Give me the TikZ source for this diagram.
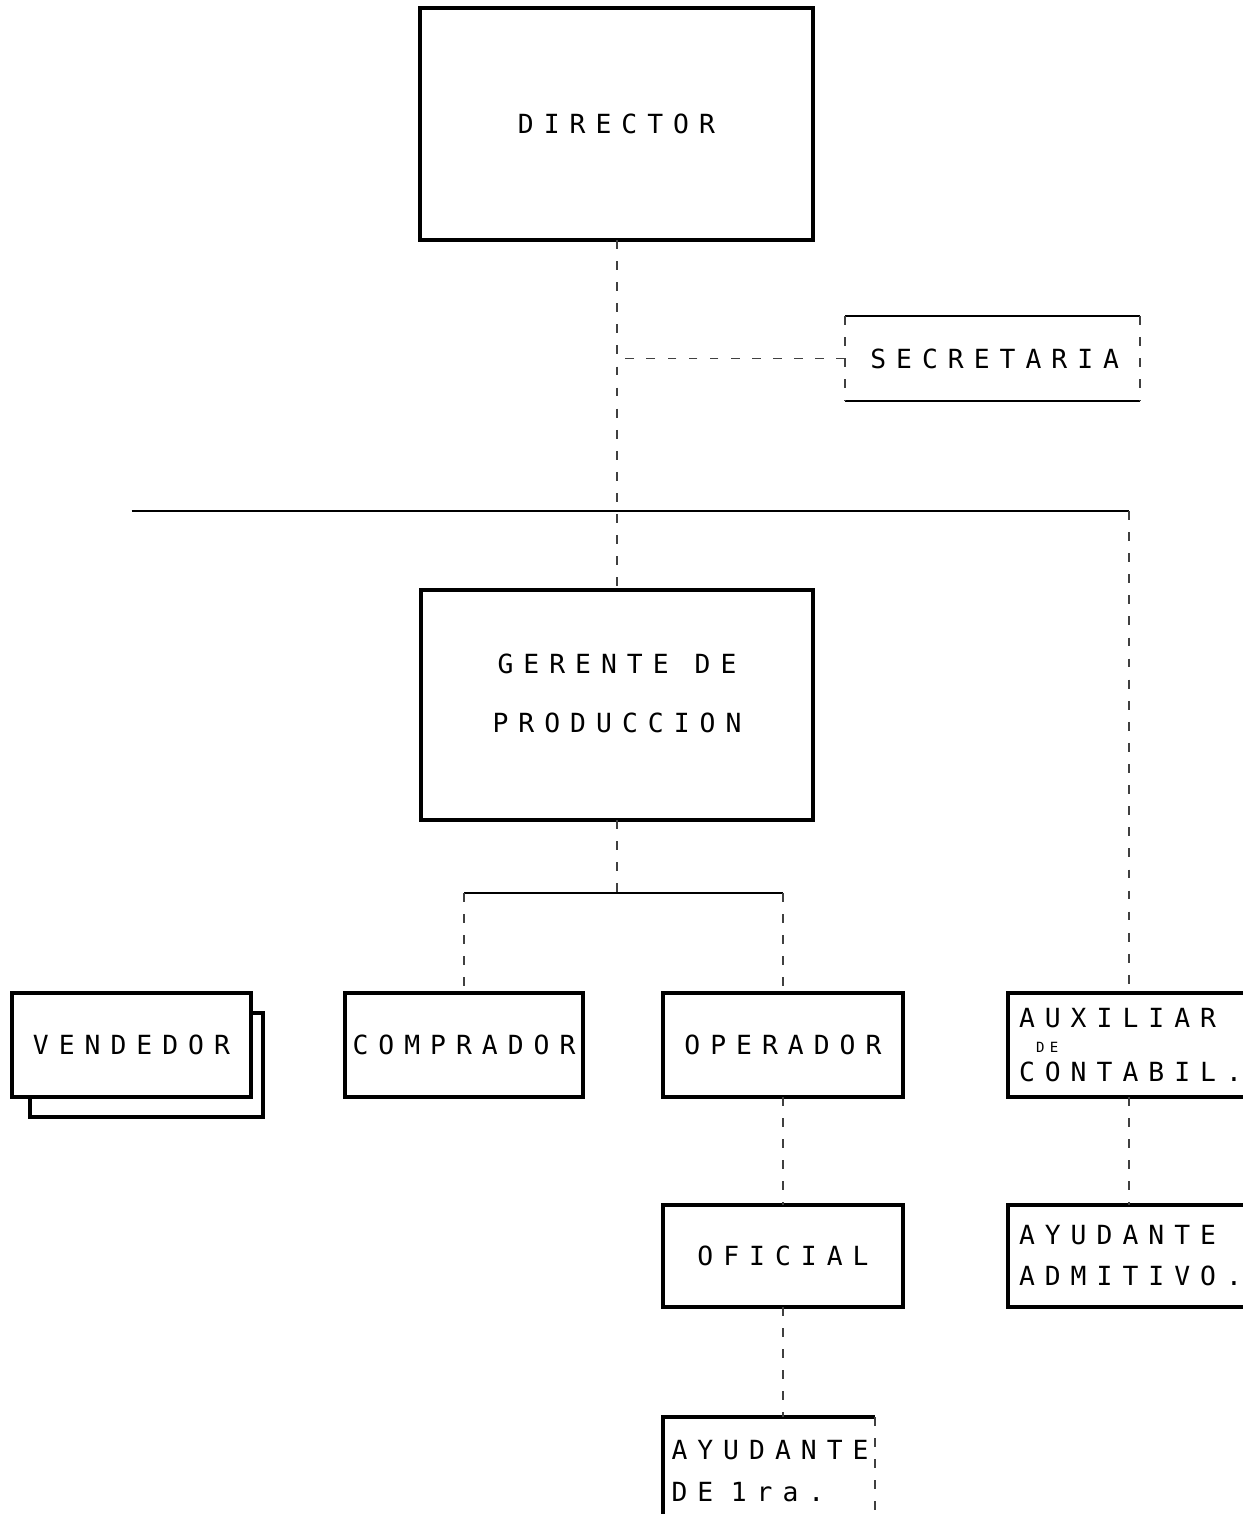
\documentclass[tikz,border=0pt]{standalone}
\usepackage{fontspec}
\newfontfamily\dotfont[LetterSpace=38]{DejaVu Sans Mono}
\usepackage{tikz}
\usetikzlibrary{positioning,calc}

\begin{document}
\begin{tikzpicture}[
  box/.style={draw=black, line width=1pt, fill=white, inner sep=0pt, outer sep=0pt,
    font=\dotfont\fontsize{7.5}{17}\selectfont},
  lbox/.style={box, align=left, text width=#1, font=\dotfont\fontsize{7.5}{11.7}\selectfont},
  link/.style={black!75, line width=0.45pt, dash pattern=on 2.5pt off 3.5pt},
  bus/.style={black, line width=0.6pt}]
\useasboundingbox (0,0) rectangle (12.43,-15.14);
% top
\node[box, minimum width=3.93cm, minimum height=2.32cm] (dir) at (6.165,-1.24) {DIRECTOR};
\node[box, draw=none, minimum width=2.95cm, minimum height=0.85cm] (sec) at (9.925,-3.585) {\,SECRETARIA};
\draw[line width=0.8pt] (sec.north west) -- (sec.north east) (sec.south west) -- (sec.south east);
\draw[link] (sec.north west) -- (sec.south west) (sec.north east) -- (sec.south east);
\node[box, minimum width=3.92cm, minimum height=2.30cm] (ger) at (6.17,-7.05)
  {\raisebox{0.14cm}[\height][\depth]{\begin{tabular}{@{}c@{}}GERENTE DE\\PRODUCCION\end{tabular}}};
% row of posts
\node[box, minimum width=2.33cm, minimum height=1.04cm] (vensh) at (1.465,-10.65) {};
\node[box, minimum width=2.39cm, minimum height=1.04cm] (ven) at (1.315,-10.45) {VENDEDOR};
\node[box, minimum width=2.38cm, minimum height=1.04cm] (comp) at (4.64,-10.45) {COMPRADOR};
\node[box, minimum width=2.40cm, minimum height=1.04cm] (oper) at (7.83,-10.45) {OPERADOR};
\node[lbox=2.2cm, minimum width=2.42cm, minimum height=1.04cm] (aux) at (11.29,-10.45)
  {AUXILIAR\\[-4.5pt]\hspace*{0.17cm}{\fontsize{4}{4}\selectfont DE}\\[-3.5pt]CONTABIL.};
\node[box, minimum width=2.40cm, minimum height=1.02cm] (ofi) at (7.83,-12.56) {OFICIAL};
\node[lbox=2.2cm, minimum width=2.42cm, minimum height=1.02cm] (adm) at (11.29,-12.56) {AYUDANTE\\ADMITIVO.};
\node[lbox=1.95cm, draw=none, minimum width=2.12cm, minimum height=1.08cm] (ay1) at (7.69,-14.71) {AYUDANTE\\DE~~1ra.};
\draw[line width=1pt] (ay1.north east) -- (ay1.north west) -- (ay1.south west);
\draw[link] (ay1.north east) -- (ay1.south east);
% connectors
\coordinate (top) at (6.17,-5.11);
\coordinate (mid) at (6.17,-8.93);
\draw[link] (dir.south -| top) -- (ger.north -| top);
\draw[link] (sec.west) -- (sec.west -| top);
\draw[bus] (ven.north |- top) -- (aux.north |- top);
\draw[link] (aux.north |- top) -- (aux.north);
\draw[link] (ger.south -| mid) -- (mid);
\draw[bus] (comp.north |- mid) -- (oper.north |- mid);
\draw[link] (comp.north |- mid) -- (comp.north);
\draw[link] (oper.north |- mid) -- (oper.north);
\draw[link] (oper.south) -- (ofi.north);
\draw[link] (ofi.south) -- (ofi.south |- ay1.north);
\draw[link] (aux.south) -- (adm.north);
\end{tikzpicture}
\end{document}
